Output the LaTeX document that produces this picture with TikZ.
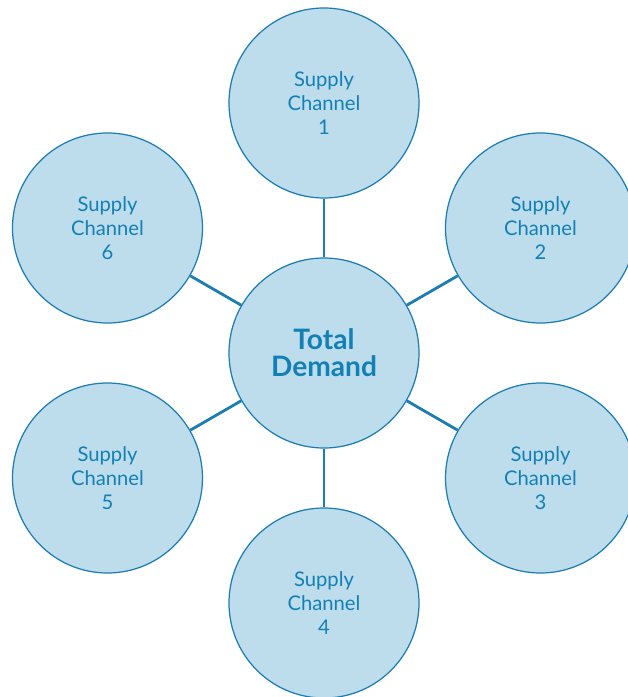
\documentclass[tikz,border=0pt]{standalone}
\usepackage{fontspec}
\setmainfont{Lato}
\definecolor{chfill}{HTML}{BDDDEC}
\definecolor{chline}{HTML}{1B7DB1}
\definecolor{chtext}{HTML}{1380B5}

\begin{document}
\begin{tikzpicture}[channel/.style={circle, draw=chline, fill=chfill, line width=0.7pt, minimum size=3.8cm, inner sep=0pt, text=chtext, align=center, font=\fontsize{11.5}{13.8}\selectfont}, hub/.style={channel, font=\fontsize{16}{15.5}\selectfont\bfseries}, link/.style={draw=chline, line width=1.6pt}]
		\useasboundingbox (-6.48,-6.88) rectangle (6.08,7.06);

		\node (td)[hub] at (0,0){Total\\Demand};

		\node (s1)[channel] at (90:5){Supply\\Channel\\1};
		\node (s2)[channel] at (30:5){Supply\\Channel\\2};
		\node (s3)[channel] at (-30:5){Supply\\Channel\\3};
		\node (s4)[channel] at (-90:5){Supply\\Channel\\4};
		\node (s5)[channel] at (210:5){Supply\\Channel\\5};
		\node (s6)[channel] at (150:5){Supply\\Channel\\6};

		\draw [link](td)
		edge (s1)
		edge (s2)
		edge (s3)
		edge (s4)
		edge (s5)
		edge (s6);
	\end{tikzpicture}
\end{document}
